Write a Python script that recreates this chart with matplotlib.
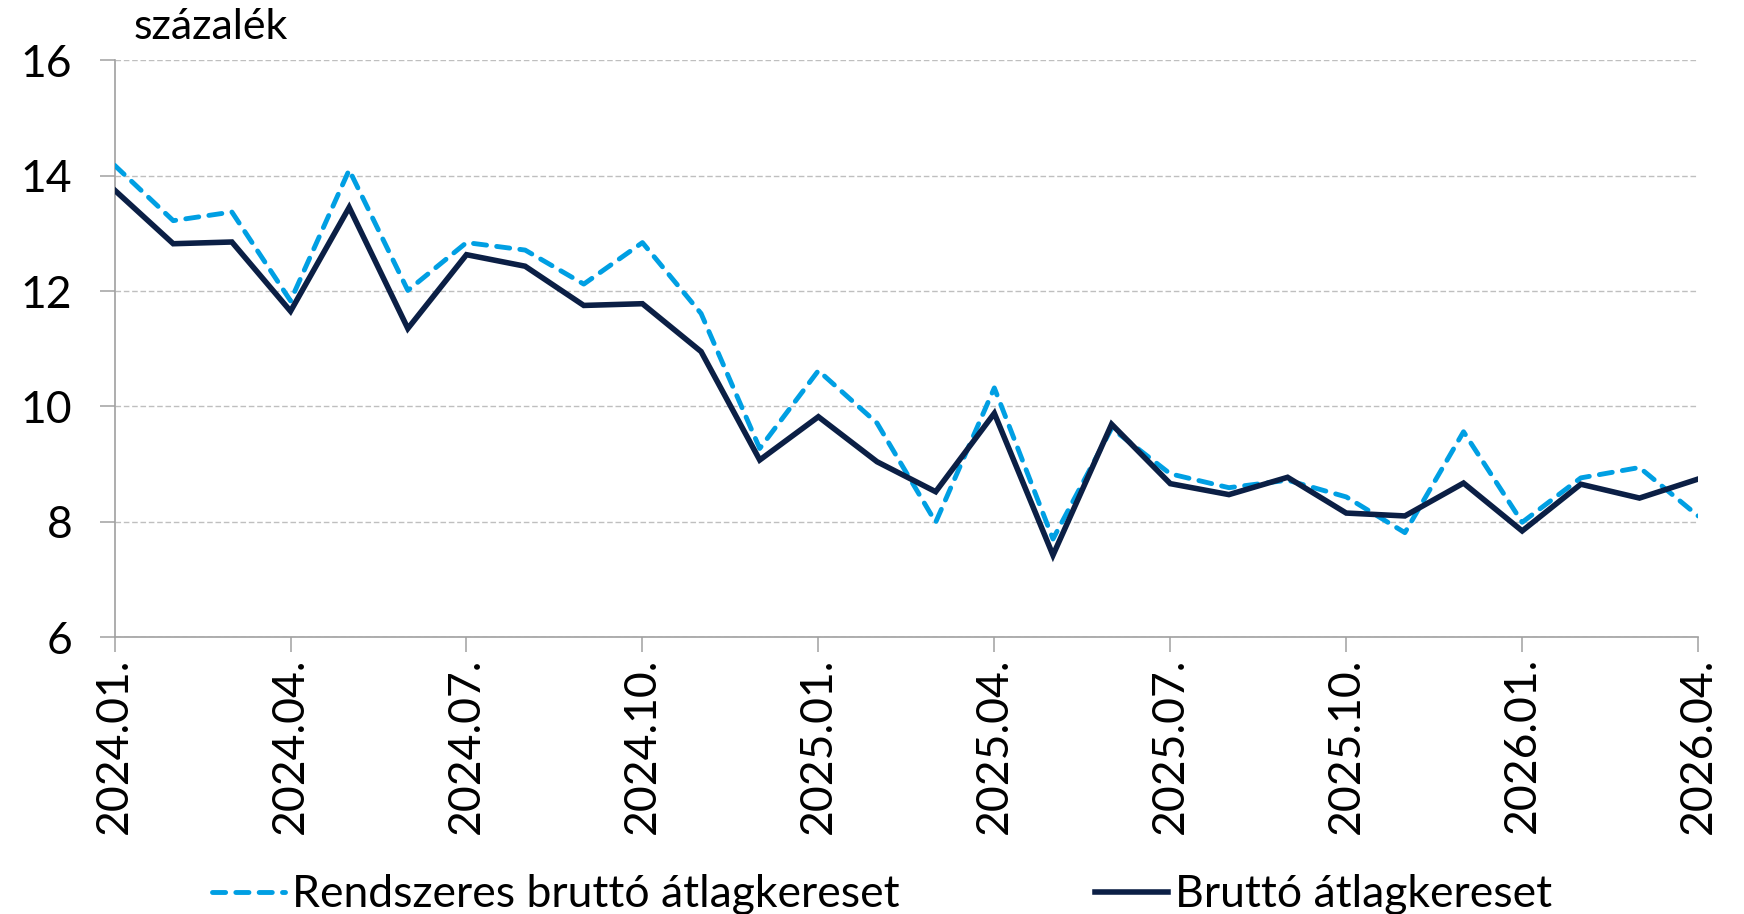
import matplotlib
matplotlib.use("Agg")
import matplotlib.pyplot as plt

plt.rcParams['font.family'] = ['Lato', 'DejaVu Sans']

months = ["2024.01.", "2024.02.", "2024.03.", "2024.04.", "2024.05.", "2024.06.",
          "2024.07.", "2024.08.", "2024.09.", "2024.10.", "2024.11.", "2024.12.",
          "2025.01.", "2025.02.", "2025.03.", "2025.04.", "2025.05.", "2025.06.",
          "2025.07.", "2025.08.", "2025.09.", "2025.10.", "2025.11.", "2025.12.",
          "2026.01.", "2026.02.", "2026.03.", "2026.04."]

rendszeres = [14.18, 13.22, 13.37, 11.83, 14.10, 12.01, 12.84, 12.71, 12.12, 12.84,
              11.61, 9.27, 10.62, 9.71, 7.99, 10.32, 7.70, 9.62, 8.83, 8.59,
              8.72, 8.43, 7.81, 9.56, 7.99, 8.76, 8.94, 8.10]

brutto = [13.75, 12.82, 12.85, 11.65, 13.45, 11.35, 12.63, 12.43, 11.75, 11.78,
          10.95, 9.07, 9.82, 9.04, 8.52, 9.88, 7.42, 9.69, 8.66, 8.47,
          8.77, 8.15, 8.10, 8.67, 7.84, 8.65, 8.41, 8.74]

label_rendszeres = "Rendszeres bruttó átlagkereset"
label_brutto = "Bruttó átlagkereset"
unit_label = "százalék"
yticks = [6, 8, 10, 12, 14, 16]

fig = plt.figure(figsize=(17.44, 9.14), dpi=100)
ax = fig.add_axes([0.0657, 0.303, 0.908, 0.631])

x = list(range(len(months)))
ax.plot(x, rendszeres, color="#009FE3", lw=3.5, ls=(0, (2.7, 2.1)),
        dash_capstyle="round", label=label_rendszeres, zorder=3)
ax.plot(x, brutto, color="#0B1F45", lw=4.0, solid_joinstyle="miter",
        label=label_brutto, zorder=4)

ax.set_xlim(0, len(months) - 1)
ax.set_ylim(6, 16)
ax.set_yticks(yticks)
ax.set_yticklabels([str(v) for v in yticks])
ax.yaxis.grid(True, color="#BFBFBF", ls=(0, (4, 2)), lw=1.0)
ax.set_axisbelow(True)

tick_idx = list(range(0, len(months), 3))
ax.set_xticks(tick_idx)
ax.set_xticklabels([months[i] for i in tick_idx], rotation=90)

for s in ["top", "right"]:
    ax.spines[s].set_visible(False)
for s in ["left", "bottom"]:
    ax.spines[s].set_color("#A0A0A0")
    ax.spines[s].set_linewidth(1.2)

ax.tick_params(axis="both", direction="out", length=10.5, width=1.1, color="#A0A0A0",
               labelsize=32, labelcolor="black")
ax.tick_params(axis="x", pad=4)
ax.tick_params(axis="y", pad=20)

fig.text(0.0765, 0.970, unit_label, fontsize=31, ha="left", va="center")

leg = fig.legend(loc="center left", bbox_to_anchor=(212 / 1744, 0.021), ncol=2,
                 frameon=False, borderpad=0, borderaxespad=0,
                 fontsize=32, handlelength=1.64, handletextpad=0.16, columnspacing=4.4)

fig.savefig("out.png", dpi=100)
